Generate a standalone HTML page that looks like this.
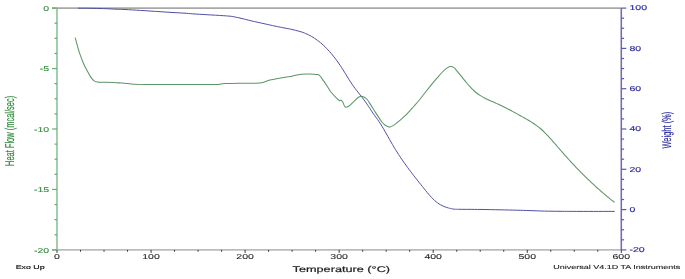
<!DOCTYPE html>
<html><head><meta charset="utf-8"><style>
html,body{margin:0;padding:0;background:#fff;}
body{width:685px;height:279px;overflow:hidden;}
svg{display:block;will-change:transform;filter:blur(0.3px);text-rendering:geometricPrecision;font-family:"Liberation Sans", sans-serif;}
</style></head><body>
<svg width="685" height="279" viewBox="0 0 685 279">
<rect width="685" height="279" fill="#fff"/>
<line x1="52" y1="8.1" x2="621.3" y2="8.1" stroke="#a8a8a8" stroke-width="1.6"/>
<line x1="52" y1="249.9" x2="621.3" y2="249.9" stroke="#bcbcbc" stroke-width="1.6"/>
<line x1="57.00" y1="249.9" x2="57.00" y2="252.90" stroke="#333" stroke-width="1"/>
<line x1="80.51" y1="249.9" x2="80.51" y2="251.70" stroke="#333" stroke-width="1"/>
<line x1="104.02" y1="249.9" x2="104.02" y2="251.70" stroke="#333" stroke-width="1"/>
<line x1="127.54" y1="249.9" x2="127.54" y2="251.70" stroke="#333" stroke-width="1"/>
<line x1="151.05" y1="249.9" x2="151.05" y2="252.90" stroke="#333" stroke-width="1"/>
<line x1="174.56" y1="249.9" x2="174.56" y2="251.70" stroke="#333" stroke-width="1"/>
<line x1="198.07" y1="249.9" x2="198.07" y2="251.70" stroke="#333" stroke-width="1"/>
<line x1="221.59" y1="249.9" x2="221.59" y2="251.70" stroke="#333" stroke-width="1"/>
<line x1="245.10" y1="249.9" x2="245.10" y2="252.90" stroke="#333" stroke-width="1"/>
<line x1="268.61" y1="249.9" x2="268.61" y2="251.70" stroke="#333" stroke-width="1"/>
<line x1="292.12" y1="249.9" x2="292.12" y2="251.70" stroke="#333" stroke-width="1"/>
<line x1="315.64" y1="249.9" x2="315.64" y2="251.70" stroke="#333" stroke-width="1"/>
<line x1="339.15" y1="249.9" x2="339.15" y2="252.90" stroke="#333" stroke-width="1"/>
<line x1="362.66" y1="249.9" x2="362.66" y2="251.70" stroke="#333" stroke-width="1"/>
<line x1="386.17" y1="249.9" x2="386.17" y2="251.70" stroke="#333" stroke-width="1"/>
<line x1="409.69" y1="249.9" x2="409.69" y2="251.70" stroke="#333" stroke-width="1"/>
<line x1="433.20" y1="249.9" x2="433.20" y2="252.90" stroke="#333" stroke-width="1"/>
<line x1="456.71" y1="249.9" x2="456.71" y2="251.70" stroke="#333" stroke-width="1"/>
<line x1="480.22" y1="249.9" x2="480.22" y2="251.70" stroke="#333" stroke-width="1"/>
<line x1="503.74" y1="249.9" x2="503.74" y2="251.70" stroke="#333" stroke-width="1"/>
<line x1="527.25" y1="249.9" x2="527.25" y2="252.90" stroke="#333" stroke-width="1"/>
<line x1="550.76" y1="249.9" x2="550.76" y2="251.70" stroke="#333" stroke-width="1"/>
<line x1="574.27" y1="249.9" x2="574.27" y2="251.70" stroke="#333" stroke-width="1"/>
<line x1="597.79" y1="249.9" x2="597.79" y2="251.70" stroke="#333" stroke-width="1"/>
<line x1="621.30" y1="249.9" x2="621.30" y2="252.90" stroke="#333" stroke-width="1"/>
<line x1="57.0" y1="8.1" x2="57.0" y2="249.9" stroke="#88c094" stroke-width="1.55"/>
<line x1="52.0" y1="8.10" x2="57.0" y2="8.10" stroke="#6aa876" stroke-width="1.2"/>
<line x1="54.5" y1="23.21" x2="57.0" y2="23.21" stroke="#6aa876" stroke-width="1.2"/>
<line x1="54.5" y1="38.33" x2="57.0" y2="38.33" stroke="#6aa876" stroke-width="1.2"/>
<line x1="54.5" y1="53.44" x2="57.0" y2="53.44" stroke="#6aa876" stroke-width="1.2"/>
<line x1="52.0" y1="68.55" x2="57.0" y2="68.55" stroke="#6aa876" stroke-width="1.2"/>
<line x1="54.5" y1="83.66" x2="57.0" y2="83.66" stroke="#6aa876" stroke-width="1.2"/>
<line x1="54.5" y1="98.77" x2="57.0" y2="98.77" stroke="#6aa876" stroke-width="1.2"/>
<line x1="54.5" y1="113.89" x2="57.0" y2="113.89" stroke="#6aa876" stroke-width="1.2"/>
<line x1="52.0" y1="129.00" x2="57.0" y2="129.00" stroke="#6aa876" stroke-width="1.2"/>
<line x1="54.5" y1="144.11" x2="57.0" y2="144.11" stroke="#6aa876" stroke-width="1.2"/>
<line x1="54.5" y1="159.22" x2="57.0" y2="159.22" stroke="#6aa876" stroke-width="1.2"/>
<line x1="54.5" y1="174.34" x2="57.0" y2="174.34" stroke="#6aa876" stroke-width="1.2"/>
<line x1="52.0" y1="189.45" x2="57.0" y2="189.45" stroke="#6aa876" stroke-width="1.2"/>
<line x1="54.5" y1="204.56" x2="57.0" y2="204.56" stroke="#6aa876" stroke-width="1.2"/>
<line x1="54.5" y1="219.67" x2="57.0" y2="219.67" stroke="#6aa876" stroke-width="1.2"/>
<line x1="54.5" y1="234.79" x2="57.0" y2="234.79" stroke="#6aa876" stroke-width="1.2"/>
<line x1="52.0" y1="249.90" x2="57.0" y2="249.90" stroke="#6aa876" stroke-width="1.2"/>
<line x1="621.3" y1="8.1" x2="621.3" y2="249.9" stroke="#6e6ab6" stroke-width="1.55"/>
<line x1="621.3" y1="8.10" x2="626.3" y2="8.10" stroke="#5c58ac" stroke-width="1.2"/>
<line x1="621.3" y1="18.17" x2="624.0999999999999" y2="18.17" stroke="#5c58ac" stroke-width="1.2"/>
<line x1="621.3" y1="28.25" x2="624.0999999999999" y2="28.25" stroke="#5c58ac" stroke-width="1.2"/>
<line x1="621.3" y1="38.33" x2="624.0999999999999" y2="38.33" stroke="#5c58ac" stroke-width="1.2"/>
<line x1="621.3" y1="48.40" x2="626.3" y2="48.40" stroke="#5c58ac" stroke-width="1.2"/>
<line x1="621.3" y1="58.48" x2="624.0999999999999" y2="58.48" stroke="#5c58ac" stroke-width="1.2"/>
<line x1="621.3" y1="68.55" x2="624.0999999999999" y2="68.55" stroke="#5c58ac" stroke-width="1.2"/>
<line x1="621.3" y1="78.62" x2="624.0999999999999" y2="78.62" stroke="#5c58ac" stroke-width="1.2"/>
<line x1="621.3" y1="88.70" x2="626.3" y2="88.70" stroke="#5c58ac" stroke-width="1.2"/>
<line x1="621.3" y1="98.77" x2="624.0999999999999" y2="98.77" stroke="#5c58ac" stroke-width="1.2"/>
<line x1="621.3" y1="108.85" x2="624.0999999999999" y2="108.85" stroke="#5c58ac" stroke-width="1.2"/>
<line x1="621.3" y1="118.92" x2="624.0999999999999" y2="118.92" stroke="#5c58ac" stroke-width="1.2"/>
<line x1="621.3" y1="129.00" x2="626.3" y2="129.00" stroke="#5c58ac" stroke-width="1.2"/>
<line x1="621.3" y1="139.07" x2="624.0999999999999" y2="139.07" stroke="#5c58ac" stroke-width="1.2"/>
<line x1="621.3" y1="149.15" x2="624.0999999999999" y2="149.15" stroke="#5c58ac" stroke-width="1.2"/>
<line x1="621.3" y1="159.22" x2="624.0999999999999" y2="159.22" stroke="#5c58ac" stroke-width="1.2"/>
<line x1="621.3" y1="169.30" x2="626.3" y2="169.30" stroke="#5c58ac" stroke-width="1.2"/>
<line x1="621.3" y1="179.38" x2="624.0999999999999" y2="179.38" stroke="#5c58ac" stroke-width="1.2"/>
<line x1="621.3" y1="189.45" x2="624.0999999999999" y2="189.45" stroke="#5c58ac" stroke-width="1.2"/>
<line x1="621.3" y1="199.53" x2="624.0999999999999" y2="199.53" stroke="#5c58ac" stroke-width="1.2"/>
<line x1="621.3" y1="209.60" x2="626.3" y2="209.60" stroke="#5c58ac" stroke-width="1.2"/>
<line x1="621.3" y1="219.67" x2="624.0999999999999" y2="219.67" stroke="#5c58ac" stroke-width="1.2"/>
<line x1="621.3" y1="229.75" x2="624.0999999999999" y2="229.75" stroke="#5c58ac" stroke-width="1.2"/>
<line x1="621.3" y1="239.82" x2="624.0999999999999" y2="239.82" stroke="#5c58ac" stroke-width="1.2"/>
<line x1="621.3" y1="249.90" x2="626.3" y2="249.90" stroke="#5c58ac" stroke-width="1.2"/>
<path d="M78.00,8.20 C80.00,8.22 85.72,8.23 90.00,8.30 C94.28,8.37 99.37,8.45 103.70,8.60 C108.03,8.75 112.45,9.05 116.00,9.20 C119.55,9.35 120.95,9.30 125.00,9.50 C129.05,9.70 135.20,10.08 140.30,10.40 C145.40,10.72 150.48,11.07 155.60,11.40 C160.72,11.73 165.88,12.08 171.00,12.40 C176.12,12.72 182.30,13.03 186.30,13.30 C190.30,13.57 190.15,13.68 195.00,14.00 C199.85,14.32 209.73,14.85 215.40,15.20 C221.07,15.55 225.90,15.83 229.00,16.10 C232.10,16.37 232.00,16.43 234.00,16.80 C236.00,17.17 238.13,17.63 241.00,18.30 C243.87,18.97 247.20,19.87 251.20,20.80 C255.20,21.73 261.03,23.02 265.00,23.90 C268.97,24.78 271.67,25.40 275.00,26.10 C278.33,26.80 282.42,27.60 285.00,28.10 C287.58,28.60 288.77,28.73 290.50,29.10 C292.23,29.47 293.65,29.85 295.40,30.30 C297.15,30.75 299.57,31.38 301.00,31.80 C302.43,32.22 303.25,32.57 304.00,32.84 C304.75,33.11 305.00,33.23 305.50,33.44 C306.00,33.65 306.50,33.87 307.00,34.10 C307.50,34.33 308.00,34.56 308.50,34.81 C309.00,35.06 309.50,35.31 310.00,35.58 C310.50,35.85 311.00,36.12 311.50,36.41 C312.00,36.70 312.50,37.00 313.00,37.31 C313.50,37.62 314.00,37.93 314.50,38.26 C315.00,38.59 315.50,38.94 316.00,39.29 C316.50,39.64 317.00,40.00 317.50,40.37 C318.00,40.74 318.50,41.12 319.00,41.52 C319.50,41.92 320.00,42.32 320.50,42.74 C321.00,43.16 321.50,43.59 322.00,44.03 C322.50,44.47 323.00,44.92 323.50,45.38 C324.00,45.84 324.50,46.32 325.00,46.81 C325.50,47.30 326.00,47.80 326.50,48.31 C327.00,48.82 327.50,49.34 328.00,49.88 C328.50,50.42 329.00,50.96 329.50,51.52 C330.00,52.08 330.50,52.66 331.00,53.24 C331.50,53.83 332.00,54.42 332.50,55.03 C333.00,55.64 333.50,56.26 334.00,56.90 C334.50,57.54 335.00,58.19 335.50,58.85 C336.00,59.51 336.50,60.19 337.00,60.88 C337.50,61.57 338.00,62.27 338.50,62.99 C339.00,63.71 339.50,64.44 340.00,65.18 C340.50,65.92 341.00,66.68 341.50,67.45 C342.00,68.22 342.50,69.02 343.00,69.81 C343.50,70.60 344.00,71.40 344.50,72.21 C345.00,73.02 345.50,73.84 346.00,74.65 C346.50,75.46 347.00,76.27 347.50,77.08 C348.00,77.89 348.50,78.69 349.00,79.49 C349.50,80.28 350.00,81.08 350.50,81.85 C351.00,82.62 351.50,83.38 352.00,84.12 C352.50,84.86 353.00,85.58 353.50,86.28 C354.00,86.98 354.50,87.66 355.00,88.33 C355.50,89.00 356.00,89.64 356.50,90.29 C357.00,90.94 357.50,91.57 358.00,92.21 C358.50,92.85 359.00,93.47 359.50,94.11 C360.00,94.75 360.50,95.38 361.00,96.02 C361.50,96.66 362.00,97.30 362.50,97.96 C363.00,98.61 363.50,99.28 364.00,99.95 C364.50,100.62 365.00,101.30 365.50,102.00 C366.00,102.70 366.50,103.41 367.00,104.14 C367.50,104.87 368.00,105.62 368.50,106.37 C369.00,107.12 369.50,107.89 370.00,108.65 C370.50,109.41 371.00,110.19 371.50,110.95 C372.00,111.71 372.50,112.47 373.00,113.20 C373.50,113.93 374.00,114.65 374.50,115.35 C375.00,116.05 375.50,116.73 376.00,117.41 C376.50,118.09 377.00,118.75 377.50,119.45 C378.00,120.15 378.50,120.85 379.00,121.59 C379.50,122.33 380.00,123.09 380.50,123.87 C381.00,124.65 381.50,125.47 382.00,126.29 C382.50,127.11 383.00,127.95 383.50,128.80 C384.00,129.65 384.50,130.52 385.00,131.39 C385.50,132.26 386.00,133.15 386.50,134.03 C387.00,134.91 387.50,135.81 388.00,136.70 C388.50,137.59 389.00,138.49 389.50,139.37 C390.00,140.25 390.50,141.13 391.00,142.01 C391.50,142.88 392.00,143.76 392.50,144.62 C393.00,145.48 393.50,146.32 394.00,147.15 C394.50,147.98 395.00,148.80 395.50,149.61 C396.00,150.42 396.50,151.22 397.00,152.01 C397.50,152.80 398.00,153.59 398.50,154.36 C399.00,155.13 399.50,155.89 400.00,156.64 C400.50,157.39 401.00,158.13 401.50,158.87 C402.00,159.61 402.50,160.33 403.00,161.05 C403.50,161.77 404.00,162.49 404.50,163.19 C405.00,163.89 405.50,164.59 406.00,165.28 C406.50,165.97 407.00,166.66 407.50,167.34 C408.00,168.02 408.50,168.69 409.00,169.36 C409.50,170.03 410.00,170.70 410.50,171.36 C411.00,172.02 411.50,172.67 412.00,173.32 C412.50,173.97 413.00,174.62 413.50,175.27 C414.00,175.92 414.50,176.55 415.00,177.19 C415.50,177.83 416.00,178.47 416.50,179.10 C417.00,179.73 417.50,180.37 418.00,181.00 C418.50,181.63 419.00,182.26 419.50,182.89 C420.00,183.52 420.50,184.15 421.00,184.78 C421.50,185.41 422.00,186.03 422.50,186.66 C423.00,187.29 423.50,187.93 424.00,188.55 C424.50,189.18 425.00,189.79 425.50,190.41 C426.00,191.03 426.50,191.65 427.00,192.25 C427.50,192.85 428.00,193.45 428.50,194.04 C429.00,194.62 429.50,195.20 430.00,195.76 C430.50,196.32 431.00,196.87 431.50,197.40 C432.00,197.93 432.50,198.44 433.00,198.94 C433.50,199.44 434.00,199.92 434.50,200.37 C435.00,200.82 435.50,201.26 436.00,201.67 C436.50,202.08 437.00,202.47 437.50,202.83 C438.00,203.20 438.50,203.54 439.00,203.86 C439.50,204.18 440.00,204.49 440.50,204.77 C441.00,205.06 441.50,205.32 442.00,205.57 C442.50,205.82 443.00,206.04 443.50,206.26 C444.00,206.47 444.50,206.67 445.00,206.86 C445.50,207.05 446.00,207.23 446.50,207.39 C447.00,207.55 447.50,207.70 448.00,207.84 C448.50,207.98 448.50,208.01 449.50,208.23 C450.50,208.45 452.25,208.97 454.00,209.15 C455.75,209.33 455.67,209.25 460.00,209.30 C464.33,209.35 473.33,209.37 480.00,209.45 C486.67,209.53 493.88,209.68 500.00,209.80 C506.12,209.93 511.70,210.07 516.70,210.20 C521.70,210.33 525.35,210.45 530.00,210.60 C534.65,210.75 539.60,210.98 544.60,211.10 C549.60,211.22 554.10,211.25 560.00,211.30 C565.90,211.35 570.88,211.38 580.00,211.40 C589.12,211.42 608.92,211.40 614.70,211.40" fill="none" stroke="#5050a4" stroke-width="1.0" stroke-linejoin="round"/>
<path d="M75.20,37.70 C75.57,39.05 76.58,42.97 77.40,45.80 C78.22,48.63 79.07,51.72 80.10,54.70 C81.13,57.68 82.42,61.02 83.60,63.70 C84.78,66.38 86.00,68.57 87.20,70.80 C88.40,73.03 89.63,75.42 90.80,77.10 C91.97,78.78 93.08,80.07 94.20,80.90 C95.32,81.73 96.20,81.87 97.50,82.10 C98.80,82.33 99.30,82.25 102.00,82.30 C104.70,82.35 110.38,82.27 113.70,82.40 C117.02,82.53 119.52,82.90 121.90,83.10 C124.28,83.30 126.07,83.42 128.00,83.60 C129.93,83.78 129.83,84.07 133.50,84.20 C137.17,84.33 143.08,84.37 150.00,84.40 C156.92,84.43 164.22,84.38 175.00,84.40 C185.78,84.42 207.20,84.55 214.70,84.50 C222.20,84.45 218.43,84.25 220.00,84.10 C221.57,83.95 220.77,83.73 224.10,83.60 C227.43,83.47 234.72,83.37 240.00,83.30 C245.28,83.23 251.98,83.35 255.80,83.20 C259.62,83.05 260.55,82.92 262.90,82.40 C265.25,81.88 267.18,80.78 269.90,80.10 C272.62,79.42 276.08,78.85 279.20,78.30 C282.32,77.75 285.68,77.35 288.60,76.80 C291.52,76.25 294.57,75.43 296.70,75.00 C298.83,74.57 299.07,74.35 301.40,74.20 C303.73,74.05 308.17,74.07 310.70,74.10 C313.23,74.13 315.13,74.18 316.60,74.40 C318.07,74.62 318.33,74.32 319.50,75.40 C320.67,76.48 322.23,78.97 323.60,80.90 C324.97,82.83 326.55,85.23 327.70,87.00 C328.85,88.77 329.15,89.78 330.50,91.50 C331.85,93.22 334.32,95.80 335.80,97.30 C337.28,98.80 338.50,100.02 339.40,100.50 C340.30,100.98 340.60,99.85 341.20,100.20 C341.80,100.55 342.40,101.53 343.00,102.60 C343.60,103.67 344.13,105.85 344.80,106.60 C345.47,107.35 346.13,107.32 347.00,107.10 C347.87,106.88 348.53,106.55 350.00,105.30 C351.47,104.05 354.38,100.95 355.80,99.60 C357.22,98.25 357.55,97.77 358.50,97.20 C359.45,96.63 360.53,96.20 361.50,96.20 C362.47,96.20 363.35,96.65 364.30,97.20 C365.25,97.75 366.25,98.43 367.20,99.50 C368.15,100.57 368.57,101.37 370.00,103.60 C371.43,105.83 373.88,109.92 375.80,112.90 C377.72,115.88 379.97,119.48 381.50,121.50 C383.03,123.52 383.70,124.07 385.00,125.00 C386.30,125.93 387.87,127.03 389.30,127.10 C390.73,127.17 391.93,126.45 393.60,125.40 C395.27,124.35 397.15,122.63 399.30,120.80 C401.45,118.97 404.10,116.78 406.50,114.40 C408.90,112.02 411.55,108.90 413.70,106.50 C415.85,104.10 417.45,102.37 419.40,100.00 C421.35,97.63 423.38,94.87 425.40,92.30 C427.42,89.73 429.53,87.00 431.50,84.60 C433.47,82.20 435.30,80.08 437.20,77.90 C439.10,75.72 441.23,73.17 442.90,71.50 C444.57,69.83 445.88,68.73 447.20,67.90 C448.52,67.07 449.60,66.50 450.80,66.50 C452.00,66.50 453.53,67.34 454.40,67.90 C455.27,68.46 455.40,69.14 456.00,69.84 C456.60,70.54 457.33,71.31 458.00,72.11 C458.67,72.91 459.33,73.77 460.00,74.61 C460.67,75.45 461.33,76.33 462.00,77.17 C462.67,78.02 463.33,78.85 464.00,79.68 C464.67,80.51 465.33,81.33 466.00,82.13 C466.67,82.93 467.33,83.72 468.00,84.49 C468.67,85.26 469.33,86.01 470.00,86.73 C470.67,87.45 471.33,88.15 472.00,88.82 C472.67,89.49 473.33,90.14 474.00,90.75 C474.67,91.36 475.33,91.94 476.00,92.49 C476.67,93.04 477.33,93.55 478.00,94.04 C478.67,94.53 479.33,94.99 480.00,95.42 C480.67,95.85 481.33,96.25 482.00,96.64 C482.67,97.03 483.33,97.40 484.00,97.75 C484.67,98.10 485.33,98.44 486.00,98.76 C486.67,99.08 487.33,99.39 488.00,99.69 C488.67,99.99 489.33,100.28 490.00,100.57 C490.67,100.86 491.33,101.15 492.00,101.43 C492.67,101.72 493.33,101.99 494.00,102.28 C494.67,102.57 495.33,102.86 496.00,103.15 C496.67,103.45 497.33,103.74 498.00,104.05 C498.67,104.36 499.33,104.67 500.00,104.99 C500.67,105.31 501.33,105.62 502.00,105.95 C502.67,106.28 503.33,106.61 504.00,106.94 C504.67,107.27 505.33,107.61 506.00,107.95 C506.67,108.29 507.33,108.63 508.00,108.98 C508.67,109.33 509.33,109.68 510.00,110.03 C510.67,110.38 511.33,110.74 512.00,111.10 C512.67,111.46 513.33,111.83 514.00,112.19 C514.67,112.55 515.33,112.91 516.00,113.28 C516.67,113.65 517.33,114.02 518.00,114.39 C518.67,114.76 519.33,115.14 520.00,115.51 C520.67,115.88 521.33,116.25 522.00,116.63 C522.67,117.00 523.33,117.38 524.00,117.76 C524.67,118.14 525.33,118.52 526.00,118.90 C526.67,119.28 527.33,119.66 528.00,120.05 C528.67,120.44 529.33,120.84 530.00,121.25 C530.67,121.66 531.33,122.06 532.00,122.49 C532.67,122.91 533.33,123.35 534.00,123.80 C534.67,124.25 535.33,124.71 536.00,125.19 C536.67,125.67 537.33,126.17 538.00,126.68 C538.67,127.20 539.33,127.73 540.00,128.28 C540.67,128.84 541.33,129.41 542.00,130.01 C542.67,130.61 543.33,131.23 544.00,131.87 C544.67,132.51 545.33,133.17 546.00,133.85 C546.67,134.53 547.33,135.22 548.00,135.93 C548.67,136.64 549.33,137.37 550.00,138.10 C550.67,138.83 551.33,139.58 552.00,140.33 C552.67,141.08 553.33,141.84 554.00,142.61 C554.67,143.38 555.33,144.16 556.00,144.93 C556.67,145.71 557.33,146.48 558.00,147.26 C558.67,148.04 559.33,148.82 560.00,149.59 C560.67,150.36 561.33,151.13 562.00,151.90 C562.67,152.67 563.33,153.43 564.00,154.19 C564.67,154.95 565.33,155.69 566.00,156.44 C566.67,157.19 567.33,157.93 568.00,158.67 C568.67,159.41 569.33,160.13 570.00,160.86 C570.67,161.59 571.33,162.31 572.00,163.03 C572.67,163.75 573.33,164.46 574.00,165.17 C574.67,165.88 575.33,166.58 576.00,167.28 C576.67,167.98 577.33,168.67 578.00,169.36 C578.67,170.05 579.33,170.73 580.00,171.41 C580.67,172.09 581.33,172.76 582.00,173.43 C582.67,174.10 583.33,174.76 584.00,175.42 C584.67,176.08 585.33,176.74 586.00,177.39 C586.67,178.04 587.33,178.68 588.00,179.32 C588.67,179.96 589.33,180.60 590.00,181.23 C590.67,181.86 591.33,182.49 592.00,183.11 C592.67,183.73 593.33,184.35 594.00,184.96 C594.67,185.57 595.33,186.19 596.00,186.79 C596.67,187.39 597.33,188.00 598.00,188.59 C598.67,189.18 599.33,189.76 600.00,190.35 C600.67,190.94 601.33,191.52 602.00,192.10 C602.67,192.68 603.33,193.24 604.00,193.81 C604.67,194.38 605.33,194.94 606.00,195.50 C606.67,196.06 607.33,196.61 608.00,197.16 C608.67,197.71 609.33,198.25 610.00,198.79 C610.67,199.33 611.33,199.87 612.00,200.40 C612.67,200.93 613.58,201.65 614.00,201.98 C614.42,202.31 614.42,202.31 614.50,202.37" fill="none" stroke="#5b9567" stroke-width="1.05" stroke-linejoin="round"/>
<text transform="translate(49.20,10.78) scale(1.485,1)" font-size="7.1" fill="#2f8a3a" stroke="#2f8a3a" stroke-width="0.08" text-anchor="end">0</text>
<text transform="translate(49.20,71.23) scale(1.485,1)" font-size="7.1" fill="#2f8a3a" stroke="#2f8a3a" stroke-width="0.08" text-anchor="end">-5</text>
<text transform="translate(49.20,131.69) scale(1.485,1)" font-size="7.1" fill="#2f8a3a" stroke="#2f8a3a" stroke-width="0.08" text-anchor="end">-10</text>
<text transform="translate(49.20,192.13) scale(1.485,1)" font-size="7.1" fill="#2f8a3a" stroke="#2f8a3a" stroke-width="0.08" text-anchor="end">-15</text>
<text transform="translate(49.20,252.59) scale(1.485,1)" font-size="7.1" fill="#2f8a3a" stroke="#2f8a3a" stroke-width="0.08" text-anchor="end">-20</text>
<text transform="translate(629.50,10.48) scale(1.485,1)" font-size="7.1" fill="#2b2ba0" stroke="#2b2ba0" stroke-width="0.15" text-anchor="start">100</text>
<text transform="translate(629.50,50.78) scale(1.485,1)" font-size="7.1" fill="#2b2ba0" stroke="#2b2ba0" stroke-width="0.15" text-anchor="start">80</text>
<text transform="translate(629.50,91.08) scale(1.485,1)" font-size="7.1" fill="#2b2ba0" stroke="#2b2ba0" stroke-width="0.15" text-anchor="start">60</text>
<text transform="translate(629.50,131.39) scale(1.485,1)" font-size="7.1" fill="#2b2ba0" stroke="#2b2ba0" stroke-width="0.15" text-anchor="start">40</text>
<text transform="translate(629.50,171.69) scale(1.485,1)" font-size="7.1" fill="#2b2ba0" stroke="#2b2ba0" stroke-width="0.15" text-anchor="start">20</text>
<text transform="translate(629.50,211.99) scale(1.485,1)" font-size="7.1" fill="#2b2ba0" stroke="#2b2ba0" stroke-width="0.15" text-anchor="start">0</text>
<text transform="translate(629.50,252.29) scale(1.485,1)" font-size="7.1" fill="#2b2ba0" stroke="#2b2ba0" stroke-width="0.15" text-anchor="start">-20</text>
<text transform="translate(57.00,258.90) scale(1.485,1)" font-size="7.1" fill="#1e1e1e" stroke="#1e1e1e" stroke-width="0.08" text-anchor="middle">0</text>
<text transform="translate(151.05,258.90) scale(1.485,1)" font-size="7.1" fill="#1e1e1e" stroke="#1e1e1e" stroke-width="0.08" text-anchor="middle">100</text>
<text transform="translate(245.10,258.90) scale(1.485,1)" font-size="7.1" fill="#1e1e1e" stroke="#1e1e1e" stroke-width="0.08" text-anchor="middle">200</text>
<text transform="translate(339.15,258.90) scale(1.485,1)" font-size="7.1" fill="#1e1e1e" stroke="#1e1e1e" stroke-width="0.08" text-anchor="middle">300</text>
<text transform="translate(433.20,258.90) scale(1.485,1)" font-size="7.1" fill="#1e1e1e" stroke="#1e1e1e" stroke-width="0.08" text-anchor="middle">400</text>
<text transform="translate(527.25,258.90) scale(1.485,1)" font-size="7.1" fill="#1e1e1e" stroke="#1e1e1e" stroke-width="0.08" text-anchor="middle">500</text>
<text transform="translate(621.30,258.90) scale(1.485,1)" font-size="7.1" fill="#1e1e1e" stroke="#1e1e1e" stroke-width="0.08" text-anchor="middle">600</text>
<text transform="translate(341.30,271.70) scale(1.515,1)" font-size="8.4" fill="#1e1e1e" stroke="#1e1e1e" stroke-width="0.2" text-anchor="middle">Temperature (°C)</text>
<text transform="translate(15.69,268.80) scale(1.58,1)" font-size="5.6" fill="#111" stroke="#111" stroke-width="0.15" text-anchor="start">Exo Up</text>
<text transform="translate(680.30,269.00) scale(1.55,1)" font-size="5.8" fill="#1a1a1a" stroke="#1a1a1a" stroke-width="0.1" text-anchor="end">Universal V4.1D TA Instruments</text>
<text transform="translate(14.2,130.9) rotate(-90) scale(1,1.72)" font-size="7.48" fill="#2f8a3a" stroke="#2f8a3a" stroke-width="0.1" text-anchor="middle">Heat Flow (mcal/sec)</text>
<text transform="translate(670.8,130.15) rotate(-90) scale(1,1.72)" font-size="7.47" fill="#2b2ba0" stroke="#2b2ba0" stroke-width="0.1" text-anchor="middle">Weight (%)</text>
</svg>
</body></html>
